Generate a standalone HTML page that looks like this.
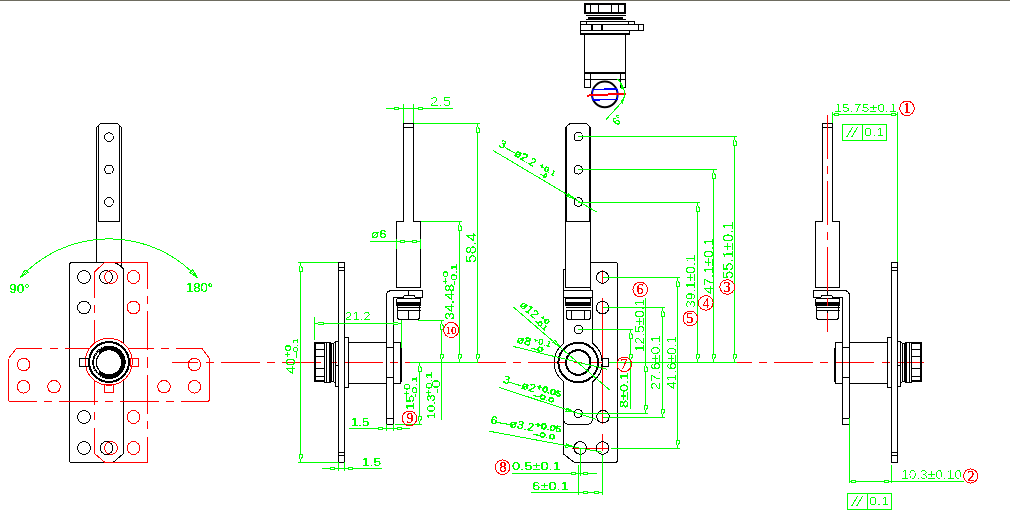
<!DOCTYPE html>
<html><head><meta charset="utf-8"><style>
html,body{margin:0;padding:0;background:#fff;}
body{width:1010px;height:515px;overflow:hidden;position:relative;}
svg{position:absolute;left:0;top:0;}
text{font-family:"Liberation Sans",sans-serif;filter:url(#al);} text.b{filter:url(#al2);} text.s{filter:url(#al3);}
</style></head><body>
<svg width="1010" height="515" viewBox="0 0 1010 515" shape-rendering="crispEdges">
<defs><filter id="al" x="-0.2" y="-0.2" width="1.4" height="1.4"><feComponentTransfer><feFuncA type="discrete" tableValues="0 1 1"/></feComponentTransfer></filter><filter id="al2" x="-0.2" y="-0.2" width="1.4" height="1.4"><feComponentTransfer><feFuncA type="discrete" tableValues="0 0 1"/></feComponentTransfer></filter><filter id="al3" x="-0.2" y="-0.2" width="1.4" height="1.4"><feComponentTransfer><feFuncA type="discrete" tableValues="0 1 1 1 1"/></feComponentTransfer></filter></defs>
<rect x="0" y="0" width="1010" height="1" fill="#6e6c60"/>
<line x1="172" y1="362.5" x2="924" y2="362.5" stroke="#ff0000" stroke-width="1" stroke-dasharray="38.8 7.3 8 7.37" stroke-dashoffset="12.5" shape-rendering="crispEdges"/>
<path d="M96.5 262 L96.5 127.5 L100.5 123.5 L117.5 123.5 L121.5 127.5 L121.5 268" stroke="#000" stroke-width="1" fill="none"/>
<path d="M98.5 221.5 L98.5 125.5 M119.5 221.5 L119.5 125.5 M98.5 221.5 L119.5 221.5" stroke="#000" stroke-width="1" fill="none"/>
<circle cx="109" cy="137.1" r="4.3" stroke="#000" stroke-width="1" fill="none"/>
<circle cx="109" cy="169.5" r="4.3" stroke="#000" stroke-width="1" fill="none"/>
<circle cx="109" cy="202" r="4.3" stroke="#000" stroke-width="1" fill="none"/>
<path d="M72 262.5 L112 262.5 Q118 262.5 123.5 269 L123.5 453.5 L113 462.5 L72 462.5 Q69.5 462.5 69.5 460 L69.5 265 Q69.5 262.5 72 262.5 Z" stroke="#000" stroke-width="1" fill="none"/>
<circle cx="84" cy="277" r="6.4" stroke="#000" stroke-width="1" fill="none"/>
<circle cx="106" cy="277" r="6.4" stroke="#000" stroke-width="1" fill="none"/>
<circle cx="84" cy="307.5" r="6.4" stroke="#000" stroke-width="1" fill="none"/>
<circle cx="84" cy="417" r="6.4" stroke="#000" stroke-width="1" fill="none"/>
<circle cx="84" cy="448" r="6.4" stroke="#000" stroke-width="1" fill="none"/>
<circle cx="106.5" cy="448" r="6.4" stroke="#000" stroke-width="1" fill="none"/>
<path d="M94.5 272 L104.5 262.5 L147.5 262.5" stroke="#ff0000" stroke-width="1" fill="none"/>
<path d="M94.5 453.5 L105 462.5 L147.5 462.5" stroke="#ff0000" stroke-width="1" fill="none"/>
<line x1="94.5" y1="272.0" x2="94.5" y2="298.0" stroke="#ff0000" stroke-width="1" shape-rendering="crispEdges"/>
<line x1="94.5" y1="305.2" x2="94.5" y2="313.2" stroke="#ff0000" stroke-width="1" shape-rendering="crispEdges"/>
<line x1="94.5" y1="320.4" x2="94.5" y2="359.2" stroke="#ff0000" stroke-width="1" shape-rendering="crispEdges"/>
<line x1="94.5" y1="366.3" x2="94.5" y2="405.1" stroke="#ff0000" stroke-width="1" shape-rendering="crispEdges"/>
<line x1="94.5" y1="412.3" x2="94.5" y2="420.3" stroke="#ff0000" stroke-width="1" shape-rendering="crispEdges"/>
<line x1="94.5" y1="427.5" x2="94.5" y2="453.5" stroke="#ff0000" stroke-width="1" shape-rendering="crispEdges"/>
<line x1="147.5" y1="262.5" x2="147.5" y2="288.5" stroke="#ff0000" stroke-width="1" shape-rendering="crispEdges"/>
<line x1="147.5" y1="295.7" x2="147.5" y2="303.7" stroke="#ff0000" stroke-width="1" shape-rendering="crispEdges"/>
<line x1="147.5" y1="310.9" x2="147.5" y2="349.7" stroke="#ff0000" stroke-width="1" shape-rendering="crispEdges"/>
<line x1="147.5" y1="356.9" x2="147.5" y2="368.1" stroke="#ff0000" stroke-width="1" shape-rendering="crispEdges"/>
<line x1="147.5" y1="375.3" x2="147.5" y2="414.1" stroke="#ff0000" stroke-width="1" shape-rendering="crispEdges"/>
<line x1="147.5" y1="421.3" x2="147.5" y2="429.3" stroke="#ff0000" stroke-width="1" shape-rendering="crispEdges"/>
<line x1="147.5" y1="436.5" x2="147.5" y2="462.5" stroke="#ff0000" stroke-width="1" shape-rendering="crispEdges"/>
<circle cx="111" cy="277" r="6.4" stroke="#ff0000" stroke-width="1" fill="none"/>
<circle cx="133.5" cy="277" r="6.4" stroke="#ff0000" stroke-width="1" fill="none"/>
<circle cx="133.5" cy="307.5" r="6.4" stroke="#ff0000" stroke-width="1" fill="none"/>
<circle cx="133.5" cy="417" r="6.4" stroke="#ff0000" stroke-width="1" fill="none"/>
<circle cx="133.5" cy="448" r="6.4" stroke="#ff0000" stroke-width="1" fill="none"/>
<circle cx="111" cy="448" r="6.4" stroke="#ff0000" stroke-width="1" fill="none"/>
<path d="M8.5 358.5 L16.3 348.5 M202 348.5 L209.5 358.5 L209.5 399 Q209.5 401.5 207 401.5 M10.8 401.5 Q8.5 401.5 8.5 399 L8.5 358.5" stroke="#ff0000" stroke-width="1" fill="none"/>
<line x1="16.3" y1="348.5" x2="42.3" y2="348.5" stroke="#ff0000" stroke-width="1" shape-rendering="crispEdges"/>
<line x1="49.5" y1="348.5" x2="57.5" y2="348.5" stroke="#ff0000" stroke-width="1" shape-rendering="crispEdges"/>
<line x1="64.7" y1="348.5" x2="103.5" y2="348.5" stroke="#ff0000" stroke-width="1" shape-rendering="crispEdges"/>
<line x1="114.8" y1="348.5" x2="153.6" y2="348.5" stroke="#ff0000" stroke-width="1" shape-rendering="crispEdges"/>
<line x1="160.8" y1="348.5" x2="168.8" y2="348.5" stroke="#ff0000" stroke-width="1" shape-rendering="crispEdges"/>
<line x1="176.0" y1="348.5" x2="202.0" y2="348.5" stroke="#ff0000" stroke-width="1" shape-rendering="crispEdges"/>
<line x1="10.8" y1="401.5" x2="36.8" y2="401.5" stroke="#ff0000" stroke-width="1" shape-rendering="crispEdges"/>
<line x1="44.0" y1="401.5" x2="52.0" y2="401.5" stroke="#ff0000" stroke-width="1" shape-rendering="crispEdges"/>
<line x1="59.2" y1="401.5" x2="98.0" y2="401.5" stroke="#ff0000" stroke-width="1" shape-rendering="crispEdges"/>
<line x1="105.2" y1="401.5" x2="112.6" y2="401.5" stroke="#ff0000" stroke-width="1" shape-rendering="crispEdges"/>
<line x1="119.8" y1="401.5" x2="158.6" y2="401.5" stroke="#ff0000" stroke-width="1" shape-rendering="crispEdges"/>
<line x1="165.8" y1="401.5" x2="173.8" y2="401.5" stroke="#ff0000" stroke-width="1" shape-rendering="crispEdges"/>
<line x1="181.0" y1="401.5" x2="207.0" y2="401.5" stroke="#ff0000" stroke-width="1" shape-rendering="crispEdges"/>
<circle cx="23.6" cy="364.5" r="6.3" stroke="#ff0000" stroke-width="1" fill="none"/>
<circle cx="23.6" cy="386.8" r="6.3" stroke="#ff0000" stroke-width="1" fill="none"/>
<circle cx="54" cy="386.8" r="6.3" stroke="#ff0000" stroke-width="1" fill="none"/>
<circle cx="194.4" cy="364.5" r="6.3" stroke="#ff0000" stroke-width="1" fill="none"/>
<circle cx="194.4" cy="386.8" r="6.3" stroke="#ff0000" stroke-width="1" fill="none"/>
<circle cx="164" cy="386.8" r="6.3" stroke="#ff0000" stroke-width="1" fill="none"/>
<circle cx="108.8" cy="361.8" r="23.5" fill="#fff"/>
<circle cx="108.8" cy="361.8" r="23.5" stroke="#ff0000" stroke-width="1" fill="none"/>
<circle cx="109" cy="362" r="19.9" stroke="#000" stroke-width="2" fill="none"/>
<circle cx="109" cy="362.3" r="14.35" stroke="#000" stroke-width="4.7" fill="none"/>
<path d="M99.1 352.6 A14 14 0 0 0 99.1 372.4" stroke="#fff" stroke-width="1.6" fill="none"/>
<path d="M103 347.5 A15.6 15.6 0 0 0 94.5 356" stroke="#fff" stroke-width="0.8" fill="none" stroke-dasharray="1 1.5"/>
<path d="M94.5 369 A15.6 15.6 0 0 0 103 377.2" stroke="#fff" stroke-width="0.8" fill="none" stroke-dasharray="1 1.5"/>
<rect x="79.5" y="358.5" width="9" height="8" stroke="#000" stroke-width="1" fill="none" shape-rendering="crispEdges"/>
<rect x="130.5" y="358.5" width="8" height="8" stroke="#ff0000" stroke-width="1" fill="none" shape-rendering="crispEdges"/>
<rect x="104.5" y="384.5" width="9" height="8" stroke="#ff0000" stroke-width="1" fill="none" shape-rendering="crispEdges"/>
<path d="M20.3 277.7 A120.5 120.5 0 0 1 197.5 277.6" stroke="#00ff00" stroke-width="1" fill="none"/>
<path d="M25.09 269.82 L20.3 277.7 L27.98 272.59 Z" stroke="#00ff00" stroke-width="1" fill="none"/>
<path d="M189.79 272.54 L197.5 277.6 L192.66 269.75 Z" stroke="#00ff00" stroke-width="1" fill="none"/>
<text x="9" y="293" font-size="12.50" fill="#00ff00" textLength="20.80" lengthAdjust="spacingAndGlyphs">90°</text>
<text x="186" y="292" font-size="12.08" fill="#00ff00" textLength="27.00" lengthAdjust="spacingAndGlyphs">180°</text>
<path d="M403.5 221.5 L403.5 123.5 L413.5 123.5 L413.5 221.5" stroke="#000" stroke-width="1" fill="none"/>
<line x1="403.5" y1="127.5" x2="413.5" y2="127.5" stroke="#000" stroke-width="1" shape-rendering="crispEdges"/>
<path d="M396.5 287.5 L396.5 221.5 L403.5 221.5 M413.5 221.5 L420.5 221.5 L420.5 287.5" stroke="#000" stroke-width="1" fill="none"/>
<line x1="396.5" y1="287.5" x2="420.5" y2="287.5" stroke="#000" stroke-width="1" shape-rendering="crispEdges"/>
<path d="M386.5 424.5 L386.5 296 Q386.5 290.5 392 290.5 L422.5 290.5 L422.5 297.5 L415.5 297.5 L414 295.5 L404.5 295.5 L403 297.5 L393.5 297.5 L393.5 424.5 L386.5 424.5" stroke="#000" stroke-width="1" fill="none"/>
<line x1="386.5" y1="418.5" x2="393.5" y2="418.5" stroke="#000" stroke-width="1" shape-rendering="crispEdges"/>
<line x1="408.5" y1="290.5" x2="408.5" y2="295.5" stroke="#000" stroke-width="1" shape-rendering="crispEdges"/>
<line x1="396.5" y1="298.5" x2="420.5" y2="298.5" stroke="#000" stroke-width="1" shape-rendering="crispEdges"/>
<line x1="396.5" y1="302.5" x2="420.5" y2="302.5" stroke="#000" stroke-width="1" shape-rendering="crispEdges"/>
<line x1="396.5" y1="305.5" x2="420.5" y2="305.5" stroke="#000" stroke-width="1" shape-rendering="crispEdges"/>
<line x1="396.5" y1="307.5" x2="420.5" y2="307.5" stroke="#000" stroke-width="1" shape-rendering="crispEdges"/>
<line x1="396.5" y1="310.5" x2="420.5" y2="310.5" stroke="#000" stroke-width="1" shape-rendering="crispEdges"/>
<line x1="396.5" y1="303.5" x2="420.5" y2="303.5" stroke="#000" stroke-width="2" shape-rendering="crispEdges"/>
<line x1="396.5" y1="298.5" x2="396.5" y2="305.5" stroke="#000" stroke-width="1" shape-rendering="crispEdges"/>
<line x1="420.5" y1="298.5" x2="420.5" y2="305.5" stroke="#000" stroke-width="1" shape-rendering="crispEdges"/>
<line x1="397.5" y1="305.5" x2="397.5" y2="310.5" stroke="#000" stroke-width="1" shape-rendering="crispEdges"/>
<line x1="419.5" y1="305.5" x2="419.5" y2="310.5" stroke="#000" stroke-width="1" shape-rendering="crispEdges"/>
<path d="M397.5 310.5 L397.5 318 L399 319.5 L418 319.5 L419.5 318 L419.5 310.5" stroke="#000" stroke-width="1" fill="none"/>
<line x1="408.5" y1="310.5" x2="408.5" y2="319.5" stroke="#000" stroke-width="1" shape-rendering="crispEdges"/>
<rect x="338.5" y="262.5" width="6" height="200" stroke="#000" stroke-width="1" fill="none" shape-rendering="crispEdges"/>
<line x1="338.5" y1="267.5" x2="344.5" y2="267.5" stroke="#000" stroke-width="1" shape-rendering="crispEdges"/>
<line x1="338.5" y1="270.5" x2="344.5" y2="270.5" stroke="#000" stroke-width="1" shape-rendering="crispEdges"/>
<line x1="338.5" y1="452.5" x2="344.5" y2="452.5" stroke="#000" stroke-width="1" shape-rendering="crispEdges"/>
<line x1="338.5" y1="455.5" x2="344.5" y2="455.5" stroke="#000" stroke-width="1" shape-rendering="crispEdges"/>
<rect x="314.5" y="342.5" width="10" height="39" stroke="#000" stroke-width="1" fill="none" shape-rendering="crispEdges"/>
<line x1="314.5" y1="343.5" x2="324.5" y2="343.5" stroke="#000" stroke-width="1" shape-rendering="crispEdges"/>
<line x1="314.5" y1="380.5" x2="324.5" y2="380.5" stroke="#000" stroke-width="1" shape-rendering="crispEdges"/>
<line x1="315.5" y1="342.5" x2="315.5" y2="381.5" stroke="#000" stroke-width="1" shape-rendering="crispEdges"/>
<line x1="314.5" y1="349.5" x2="324.5" y2="349.5" stroke="#000" stroke-width="1" shape-rendering="crispEdges"/>
<line x1="314.5" y1="356.5" x2="324.5" y2="356.5" stroke="#000" stroke-width="1" shape-rendering="crispEdges"/>
<line x1="314.5" y1="368.5" x2="324.5" y2="368.5" stroke="#000" stroke-width="1" shape-rendering="crispEdges"/>
<line x1="314.5" y1="376.5" x2="324.5" y2="376.5" stroke="#000" stroke-width="1" shape-rendering="crispEdges"/>
<rect x="324.5" y="342.5" width="2" height="40" stroke="#000" stroke-width="1" fill="none" shape-rendering="crispEdges"/>
<rect x="326.5" y="342.5" width="4" height="40" stroke="#000" stroke-width="1" fill="none" shape-rendering="crispEdges"/>
<line x1="329.5" y1="342.5" x2="329.5" y2="382.5" stroke="#000" stroke-width="1" shape-rendering="crispEdges"/>
<path d="M330.5 345 L331.5 344 L331.5 381 L330.5 380" stroke="#000" stroke-width="1" fill="none"/>
<rect x="331.5" y="343.5" width="2" height="38" stroke="#000" stroke-width="1" fill="none" shape-rendering="crispEdges"/>
<path d="M333.5 343.5 L335.5 341.5 L335.5 383.5 L333.5 381.5" stroke="#000" stroke-width="1" fill="none"/>
<rect x="335.5" y="341.5" width="3" height="45" stroke="#000" stroke-width="1" fill="none" shape-rendering="crispEdges"/>
<line x1="335.5" y1="365.5" x2="338.5" y2="365.5" stroke="#000" stroke-width="1" shape-rendering="crispEdges"/>
<rect x="344.5" y="337.5" width="4" height="50" stroke="#000" stroke-width="1" fill="none" shape-rendering="crispEdges"/>
<line x1="348.5" y1="342.5" x2="386.5" y2="342.5" stroke="#000" stroke-width="1" shape-rendering="crispEdges"/>
<line x1="348.5" y1="383.5" x2="386.5" y2="383.5" stroke="#000" stroke-width="1" shape-rendering="crispEdges"/>
<line x1="386.5" y1="347.5" x2="393.5" y2="347.5" stroke="#000" stroke-width="1" shape-rendering="crispEdges"/>
<line x1="386.5" y1="377.5" x2="393.5" y2="377.5" stroke="#000" stroke-width="1" shape-rendering="crispEdges"/>
<path d="M393.5 342.5 L400.5 342.5 L400.5 383.5 L393.5 383.5" stroke="#000" stroke-width="1" fill="none"/>
<line x1="401.5" y1="348" x2="401.5" y2="382" stroke="#000" stroke-width="1" shape-rendering="crispEdges"/>
<g transform="matrix(-1 0 0 1 1236 0)">
<path d="M403.5 221.5 L403.5 123.5 L413.5 123.5 L413.5 221.5" stroke="#000" stroke-width="1" fill="none"/>
<line x1="403.5" y1="127.5" x2="413.5" y2="127.5" stroke="#000" stroke-width="1" shape-rendering="crispEdges"/>
<path d="M396.5 287.5 L396.5 221.5 L403.5 221.5 M413.5 221.5 L420.5 221.5 L420.5 287.5" stroke="#000" stroke-width="1" fill="none"/>
<line x1="396.5" y1="287.5" x2="420.5" y2="287.5" stroke="#000" stroke-width="1" shape-rendering="crispEdges"/>
<path d="M386.5 424.5 L386.5 296 Q386.5 290.5 392 290.5 L422.5 290.5 L422.5 297.5 L415.5 297.5 L414 295.5 L404.5 295.5 L403 297.5 L393.5 297.5 L393.5 424.5 L386.5 424.5" stroke="#000" stroke-width="1" fill="none"/>
<line x1="386.5" y1="418.5" x2="393.5" y2="418.5" stroke="#000" stroke-width="1" shape-rendering="crispEdges"/>
<line x1="408.5" y1="290.5" x2="408.5" y2="295.5" stroke="#000" stroke-width="1" shape-rendering="crispEdges"/>
<line x1="396.5" y1="298.5" x2="420.5" y2="298.5" stroke="#000" stroke-width="1" shape-rendering="crispEdges"/>
<line x1="396.5" y1="302.5" x2="420.5" y2="302.5" stroke="#000" stroke-width="1" shape-rendering="crispEdges"/>
<line x1="396.5" y1="305.5" x2="420.5" y2="305.5" stroke="#000" stroke-width="1" shape-rendering="crispEdges"/>
<line x1="396.5" y1="307.5" x2="420.5" y2="307.5" stroke="#000" stroke-width="1" shape-rendering="crispEdges"/>
<line x1="396.5" y1="310.5" x2="420.5" y2="310.5" stroke="#000" stroke-width="1" shape-rendering="crispEdges"/>
<line x1="396.5" y1="303.5" x2="420.5" y2="303.5" stroke="#000" stroke-width="2" shape-rendering="crispEdges"/>
<line x1="396.5" y1="298.5" x2="396.5" y2="305.5" stroke="#000" stroke-width="1" shape-rendering="crispEdges"/>
<line x1="420.5" y1="298.5" x2="420.5" y2="305.5" stroke="#000" stroke-width="1" shape-rendering="crispEdges"/>
<line x1="397.5" y1="305.5" x2="397.5" y2="310.5" stroke="#000" stroke-width="1" shape-rendering="crispEdges"/>
<line x1="419.5" y1="305.5" x2="419.5" y2="310.5" stroke="#000" stroke-width="1" shape-rendering="crispEdges"/>
<path d="M397.5 310.5 L397.5 318 L399 319.5 L418 319.5 L419.5 318 L419.5 310.5" stroke="#000" stroke-width="1" fill="none"/>
<line x1="408.5" y1="310.5" x2="408.5" y2="319.5" stroke="#000" stroke-width="1" shape-rendering="crispEdges"/>
<rect x="338.5" y="262.5" width="6" height="200" stroke="#000" stroke-width="1" fill="none" shape-rendering="crispEdges"/>
<line x1="338.5" y1="267.5" x2="344.5" y2="267.5" stroke="#000" stroke-width="1" shape-rendering="crispEdges"/>
<line x1="338.5" y1="270.5" x2="344.5" y2="270.5" stroke="#000" stroke-width="1" shape-rendering="crispEdges"/>
<line x1="338.5" y1="452.5" x2="344.5" y2="452.5" stroke="#000" stroke-width="1" shape-rendering="crispEdges"/>
<line x1="338.5" y1="455.5" x2="344.5" y2="455.5" stroke="#000" stroke-width="1" shape-rendering="crispEdges"/>
<rect x="314.5" y="342.5" width="10" height="39" stroke="#000" stroke-width="1" fill="none" shape-rendering="crispEdges"/>
<line x1="314.5" y1="343.5" x2="324.5" y2="343.5" stroke="#000" stroke-width="1" shape-rendering="crispEdges"/>
<line x1="314.5" y1="380.5" x2="324.5" y2="380.5" stroke="#000" stroke-width="1" shape-rendering="crispEdges"/>
<line x1="315.5" y1="342.5" x2="315.5" y2="381.5" stroke="#000" stroke-width="1" shape-rendering="crispEdges"/>
<line x1="314.5" y1="349.5" x2="324.5" y2="349.5" stroke="#000" stroke-width="1" shape-rendering="crispEdges"/>
<line x1="314.5" y1="356.5" x2="324.5" y2="356.5" stroke="#000" stroke-width="1" shape-rendering="crispEdges"/>
<line x1="314.5" y1="368.5" x2="324.5" y2="368.5" stroke="#000" stroke-width="1" shape-rendering="crispEdges"/>
<line x1="314.5" y1="376.5" x2="324.5" y2="376.5" stroke="#000" stroke-width="1" shape-rendering="crispEdges"/>
<rect x="324.5" y="342.5" width="2" height="40" stroke="#000" stroke-width="1" fill="none" shape-rendering="crispEdges"/>
<rect x="326.5" y="342.5" width="4" height="40" stroke="#000" stroke-width="1" fill="none" shape-rendering="crispEdges"/>
<line x1="329.5" y1="342.5" x2="329.5" y2="382.5" stroke="#000" stroke-width="1" shape-rendering="crispEdges"/>
<path d="M330.5 345 L331.5 344 L331.5 381 L330.5 380" stroke="#000" stroke-width="1" fill="none"/>
<rect x="331.5" y="343.5" width="2" height="38" stroke="#000" stroke-width="1" fill="none" shape-rendering="crispEdges"/>
<path d="M333.5 343.5 L335.5 341.5 L335.5 383.5 L333.5 381.5" stroke="#000" stroke-width="1" fill="none"/>
<rect x="335.5" y="341.5" width="3" height="45" stroke="#000" stroke-width="1" fill="none" shape-rendering="crispEdges"/>
<line x1="335.5" y1="365.5" x2="338.5" y2="365.5" stroke="#000" stroke-width="1" shape-rendering="crispEdges"/>
<rect x="344.5" y="337.5" width="4" height="50" stroke="#000" stroke-width="1" fill="none" shape-rendering="crispEdges"/>
<line x1="348.5" y1="342.5" x2="386.5" y2="342.5" stroke="#000" stroke-width="1" shape-rendering="crispEdges"/>
<line x1="348.5" y1="383.5" x2="386.5" y2="383.5" stroke="#000" stroke-width="1" shape-rendering="crispEdges"/>
<line x1="386.5" y1="347.5" x2="393.5" y2="347.5" stroke="#000" stroke-width="1" shape-rendering="crispEdges"/>
<line x1="386.5" y1="377.5" x2="393.5" y2="377.5" stroke="#000" stroke-width="1" shape-rendering="crispEdges"/>
<path d="M393.5 342.5 L400.5 342.5 L400.5 383.5 L393.5 383.5" stroke="#000" stroke-width="1" fill="none"/>
<line x1="401.5" y1="348" x2="401.5" y2="382" stroke="#000" stroke-width="1" shape-rendering="crispEdges"/>
</g>
<line x1="827.5" y1="114.5" x2="827.5" y2="332" stroke="#ff0000" stroke-width="1" stroke-dasharray="44 7 8 7" stroke-dashoffset="0" shape-rendering="crispEdges"/>
<line x1="386" y1="108.5" x2="452.5" y2="108.5" stroke="#00ff00" stroke-width="1" shape-rendering="crispEdges"/>
<line x1="403.5" y1="104" x2="403.5" y2="123" stroke="#00ff00" stroke-width="1" shape-rendering="crispEdges"/>
<line x1="413.5" y1="104" x2="413.5" y2="123" stroke="#00ff00" stroke-width="1" shape-rendering="crispEdges"/>
<rect x="394.5" y="107.5" width="4" height="2" stroke="#00ff00" stroke-width="1" fill="#fff" shape-rendering="crispEdges"/>
<rect x="418.5" y="107.5" width="4" height="2" stroke="#00ff00" stroke-width="1" fill="#fff" shape-rendering="crispEdges"/>
<text class="b" x="430" y="106" font-size="12.08" fill="#00ff00" textLength="21.30" lengthAdjust="spacingAndGlyphs">2.5</text>
<line x1="413.5" y1="123.5" x2="480" y2="123.5" stroke="#00ff00" stroke-width="1" shape-rendering="crispEdges"/>
<line x1="477.5" y1="123.5" x2="477.5" y2="362.5" stroke="#00ff00" stroke-width="1" shape-rendering="crispEdges"/>
<path d="M477.5 126.0 L479.0 128.5 L479.0 132.0 L476.0 132.0 L476.0 128.5 Z" stroke="#00ff00" fill="#fff"/>
<path d="M477.5 360.0 L479.0 357.5 L479.0 354.0 L476.0 354.0 L476.0 357.5 Z" stroke="#00ff00" fill="#fff"/>
<text class="b" stroke="#00ff00" stroke-width="0.2" x="476" y="263" font-size="14.03" fill="#00ff00" textLength="30.30" lengthAdjust="spacingAndGlyphs" transform="rotate(-90 476 263)">58.4</text>
<line x1="369.5" y1="241.5" x2="420.5" y2="241.5" stroke="#00ff00" stroke-width="1" shape-rendering="crispEdges"/>
<line x1="396.5" y1="239" x2="396.5" y2="249" stroke="#00ff00" stroke-width="1" shape-rendering="crispEdges"/>
<line x1="420.5" y1="239" x2="420.5" y2="249" stroke="#00ff00" stroke-width="1" shape-rendering="crispEdges"/>
<rect x="400.5" y="240.5" width="4" height="2" stroke="#00ff00" stroke-width="1" fill="#fff" shape-rendering="crispEdges"/>
<rect x="412.5" y="240.5" width="4" height="2" stroke="#00ff00" stroke-width="1" fill="#fff" shape-rendering="crispEdges"/>
<text x="371" y="238" font-size="10.69" fill="#00ff00" textLength="15.60" lengthAdjust="spacingAndGlyphs">ø6</text>
<line x1="420.5" y1="221.5" x2="462" y2="221.5" stroke="#00ff00" stroke-width="1" shape-rendering="crispEdges"/>
<line x1="459.5" y1="221.5" x2="459.5" y2="362.5" stroke="#00ff00" stroke-width="1" shape-rendering="crispEdges"/>
<path d="M459.5 224.0 L461.0 226.5 L461.0 230.0 L458.0 230.0 L458.0 226.5 Z" stroke="#00ff00" fill="#fff"/>
<path d="M459.5 360.0 L461.0 357.5 L461.0 354.0 L458.0 354.0 L458.0 357.5 Z" stroke="#00ff00" fill="#fff"/>
<text x="454" y="320" font-size="11.94" fill="#00ff00" textLength="36.00" lengthAdjust="spacingAndGlyphs" transform="rotate(-90 454 320)">34.48</text>
<text x="448" y="285" font-size="7.64" fill="#00ff00" textLength="14.20" lengthAdjust="spacingAndGlyphs" transform="rotate(-90 448 285)">+0</text>
<text x="457" y="285" font-size="8.19" fill="#00ff00" textLength="21.40" lengthAdjust="spacingAndGlyphs" transform="rotate(-90 457 285)">-0.1</text>
<line x1="418" y1="320.5" x2="443.6" y2="320.5" stroke="#00ff00" stroke-width="1" shape-rendering="crispEdges"/>
<line x1="441.5" y1="320.5" x2="441.5" y2="419.5" stroke="#00ff00" stroke-width="1" shape-rendering="crispEdges"/>
<path d="M441.5 323.0 L443.0 325.5 L443.0 329.0 L440.0 329.0 L440.0 325.5 Z" stroke="#00ff00" fill="#fff"/>
<path d="M441.5 360.0 L443.0 357.5 L443.0 354.0 L440.0 354.0 L440.0 357.5 Z" stroke="#00ff00" fill="#fff"/>
<circle cx="451.1" cy="330" r="7.5" stroke="#ff0000" stroke-width="1" fill="none"/>
<text x="451" y="334" font-size="11" fill="#ff0000" text-anchor="middle" style="font-family:'Liberation Serif',serif">10</text>
<line x1="314.5" y1="323.5" x2="401.5" y2="323.5" stroke="#00ff00" stroke-width="1" shape-rendering="crispEdges"/>
<line x1="314.5" y1="317" x2="314.5" y2="340" stroke="#00ff00" stroke-width="1" shape-rendering="crispEdges"/>
<line x1="401.5" y1="320" x2="401.5" y2="348" stroke="#00ff00" stroke-width="1" shape-rendering="crispEdges"/>
<path d="M317.0 323.5 L319.5 322.5 L323.0 322.5 L323.0 324.5 L319.5 324.5 Z" stroke="#00ff00" fill="#fff"/>
<path d="M399.0 323.5 L396.5 322.5 L393.0 322.5 L393.0 324.5 L396.5 324.5 Z" stroke="#00ff00" fill="#fff"/>
<text class="b" x="345" y="320" font-size="10.83" fill="#00ff00" textLength="25.60" lengthAdjust="spacingAndGlyphs">21.2</text>
<line x1="300.5" y1="262.5" x2="300.5" y2="462.5" stroke="#00ff00" stroke-width="1" shape-rendering="crispEdges"/>
<line x1="298" y1="262.5" x2="338" y2="262.5" stroke="#00ff00" stroke-width="1" shape-rendering="crispEdges"/>
<line x1="298" y1="462.5" x2="338" y2="462.5" stroke="#00ff00" stroke-width="1" shape-rendering="crispEdges"/>
<path d="M300.5 265.0 L302.0 267.5 L302.0 271.0 L299.0 271.0 L299.0 267.5 Z" stroke="#00ff00" fill="#fff"/>
<path d="M300.5 460.0 L302.0 457.5 L302.0 454.0 L299.0 454.0 L299.0 457.5 Z" stroke="#00ff00" fill="#fff"/>
<text class="b" stroke="#00ff00" stroke-width="0.2" x="295" y="374" font-size="12.08" fill="#00ff00" textLength="15.90" lengthAdjust="spacingAndGlyphs" transform="rotate(-90 295 374)">40</text>
<text x="291" y="358" font-size="8.75" fill="#00ff00" textLength="13.00" lengthAdjust="spacingAndGlyphs" transform="rotate(-90 291 358)">+0</text>
<text x="298" y="358" font-size="7.36" fill="#00ff00" textLength="19.80" lengthAdjust="spacingAndGlyphs" transform="rotate(-90 298 358)">–0.1</text>
<line x1="419.5" y1="362.5" x2="419.5" y2="424.5" stroke="#00ff00" stroke-width="1" shape-rendering="crispEdges"/>
<line x1="395" y1="424.5" x2="421.8" y2="424.5" stroke="#00ff00" stroke-width="1" shape-rendering="crispEdges"/>
<path d="M419.5 365.0 L421.0 367.5 L421.0 371.0 L418.0 371.0 L418.0 367.5 Z" stroke="#00ff00" fill="#fff"/>
<path d="M419.5 422.0 L421.0 419.5 L421.0 416.0 L418.0 416.0 L418.0 419.5 Z" stroke="#00ff00" fill="#fff"/>
<text x="414" y="410" font-size="10.28" fill="#00ff00" textLength="15.00" lengthAdjust="spacingAndGlyphs" transform="rotate(-90 414 410)">15</text>
<text x="410" y="397" font-size="8.19" fill="#00ff00" textLength="13.80" lengthAdjust="spacingAndGlyphs" transform="rotate(-90 410 397)">+0</text>
<text x="417" y="398" font-size="7.36" fill="#00ff00" textLength="22.20" lengthAdjust="spacingAndGlyphs" transform="rotate(-90 417 398)">-0.1</text>
<text x="435" y="419" font-size="10.14" fill="#00ff00" textLength="24.50" lengthAdjust="spacingAndGlyphs" transform="rotate(-90 435 419)">10.3</text>
<text x="432" y="396" font-size="9.58" fill="#00ff00" textLength="24.00" lengthAdjust="spacingAndGlyphs" transform="rotate(-90 432 396)">+0.1</text>
<text x="440" y="394" font-size="10.42" fill="#00ff00" textLength="14.50" lengthAdjust="spacingAndGlyphs" transform="rotate(-90 440 394)">-0</text>
<circle cx="409.5" cy="418.3" r="7.3" stroke="#ff0000" stroke-width="1" fill="none"/>
<text x="410" y="423" font-size="14" fill="#ff0000" text-anchor="middle" style="font-family:'Liberation Serif',serif">9</text>
<line x1="349" y1="428.5" x2="409.8" y2="428.5" stroke="#00ff00" stroke-width="1" shape-rendering="crispEdges"/>
<line x1="386.5" y1="424" x2="386.5" y2="431" stroke="#00ff00" stroke-width="1" shape-rendering="crispEdges"/>
<line x1="393.5" y1="424" x2="393.5" y2="431" stroke="#00ff00" stroke-width="1" shape-rendering="crispEdges"/>
<rect x="378.5" y="427.5" width="4" height="2" stroke="#00ff00" stroke-width="1" fill="#fff" shape-rendering="crispEdges"/>
<rect x="397.5" y="427.5" width="4" height="2" stroke="#00ff00" stroke-width="1" fill="#fff" shape-rendering="crispEdges"/>
<text x="351" y="426" font-size="11.39" fill="#00ff00" textLength="18.40" lengthAdjust="spacingAndGlyphs">1.5</text>
<line x1="322.3" y1="468.5" x2="381.6" y2="468.5" stroke="#00ff00" stroke-width="1" shape-rendering="crispEdges"/>
<line x1="338.5" y1="462" x2="338.5" y2="471" stroke="#00ff00" stroke-width="1" shape-rendering="crispEdges"/>
<line x1="344.5" y1="462" x2="344.5" y2="471" stroke="#00ff00" stroke-width="1" shape-rendering="crispEdges"/>
<rect x="330.5" y="467.5" width="4" height="2" stroke="#00ff00" stroke-width="1" fill="#fff" shape-rendering="crispEdges"/>
<rect x="348.5" y="467.5" width="4" height="2" stroke="#00ff00" stroke-width="1" fill="#fff" shape-rendering="crispEdges"/>
<text x="362" y="466" font-size="11.39" fill="#00ff00" textLength="19.00" lengthAdjust="spacingAndGlyphs">1.5</text>
<line x1="409.8" y1="362.5" x2="478" y2="362.5" stroke="#00ff00" stroke-width="1" shape-rendering="crispEdges"/>
<line x1="602.5" y1="269.5" x2="602.5" y2="283.4" stroke="#ff0000" stroke-width="1" shape-rendering="crispEdges"/>
<line x1="602.5" y1="297.5" x2="602.5" y2="424.3" stroke="#ff0000" stroke-width="1" shape-rendering="crispEdges"/>
<line x1="602.5" y1="433.6" x2="602.5" y2="451" stroke="#ff0000" stroke-width="1" shape-rendering="crispEdges"/>
<line x1="602.5" y1="454.6" x2="602.5" y2="460" stroke="#ff0000" stroke-width="1" shape-rendering="crispEdges"/>
<line x1="572" y1="448.5" x2="608" y2="448.5" stroke="#ff0000" stroke-width="1" shape-rendering="crispEdges"/>
<path d="M565.5 287.5 L565.5 127.5 L570 123.5 L586.5 123.5 L590.5 127.5 L590.5 290.5" stroke="#000" stroke-width="1" fill="none"/>
<path d="M566.5 221.5 L566.5 127 M589.5 221.5 L589.5 127 M566.5 221.5 L589.5 221.5" stroke="#000" stroke-width="1" fill="none"/>
<line x1="565.5" y1="287.5" x2="590.5" y2="287.5" stroke="#000" stroke-width="1" shape-rendering="crispEdges"/>
<circle cx="578.3" cy="136.7" r="4.3" stroke="#000" stroke-width="1" fill="none"/>
<circle cx="578.3" cy="169.8" r="4.3" stroke="#000" stroke-width="1" fill="none"/>
<circle cx="578.3" cy="202" r="4.3" stroke="#000" stroke-width="1" fill="none"/>
<line x1="563.5" y1="290.5" x2="592.5" y2="290.5" stroke="#000" stroke-width="1" shape-rendering="crispEdges"/>
<line x1="563.5" y1="297.5" x2="592.5" y2="297.5" stroke="#000" stroke-width="1" shape-rendering="crispEdges"/>
<path d="M565.5 268.5 L563.5 270 L563.5 454 L574.5 462.5 L615 462.5 Q617.5 462.5 617.5 460 L617.5 265 Q617.5 262.5 615 262.5 L590.5 262.5" stroke="#000" stroke-width="1" fill="none"/>
<path d="M592.5 290.5 L592.5 418 Q592.5 424.5 586.5 424.5 L569.5 424.5 Q563.5 424.5 563.5 418" stroke="#000" stroke-width="1" fill="none"/>
<line x1="565.5" y1="298.5" x2="590.5" y2="298.5" stroke="#000" stroke-width="1" shape-rendering="crispEdges"/>
<line x1="565.5" y1="302.5" x2="590.5" y2="302.5" stroke="#000" stroke-width="1" shape-rendering="crispEdges"/>
<line x1="565.5" y1="305.5" x2="590.5" y2="305.5" stroke="#000" stroke-width="1" shape-rendering="crispEdges"/>
<line x1="565.5" y1="307.5" x2="590.5" y2="307.5" stroke="#000" stroke-width="1" shape-rendering="crispEdges"/>
<line x1="565.5" y1="310.5" x2="590.5" y2="310.5" stroke="#000" stroke-width="1" shape-rendering="crispEdges"/>
<line x1="565.5" y1="303.5" x2="590.5" y2="303.5" stroke="#000" stroke-width="2" shape-rendering="crispEdges"/>
<line x1="565.5" y1="297.5" x2="565.5" y2="305.5" stroke="#000" stroke-width="1" shape-rendering="crispEdges"/>
<line x1="590.5" y1="297.5" x2="590.5" y2="305.5" stroke="#000" stroke-width="1" shape-rendering="crispEdges"/>
<path d="M566.5 310.5 L566.5 318 L568 319.5 L589 319.5 L590.5 318 L590.5 310.5" stroke="#000" stroke-width="1" fill="none"/>
<line x1="571.5" y1="310.5" x2="571.5" y2="319.5" stroke="#000" stroke-width="1" shape-rendering="crispEdges"/>
<line x1="584.5" y1="310.5" x2="584.5" y2="319.5" stroke="#000" stroke-width="1" shape-rendering="crispEdges"/>
<circle cx="602.5" cy="277.3" r="6" stroke="#000" stroke-width="1" fill="none"/>
<circle cx="602.5" cy="307.6" r="6.3" stroke="#000" stroke-width="1" fill="none"/>
<circle cx="578.4" cy="329.5" r="4.3" stroke="#000" stroke-width="1" fill="none"/>
<circle cx="578.3" cy="413.4" r="4" stroke="#000" stroke-width="1" fill="none"/>
<circle cx="603" cy="416.8" r="6.3" stroke="#000" stroke-width="1" fill="none"/>
<circle cx="580.1" cy="448" r="6.3" stroke="#000" stroke-width="1" fill="none"/>
<circle cx="602.6" cy="448" r="6.3" stroke="#000" stroke-width="1" fill="none"/>
<circle cx="578.2" cy="362.5" r="23.5" fill="#fff"/>
<path d="M563.5 343.53 A24 24 0 0 0 563.5 381.47" stroke="#000" stroke-width="1" fill="none"/>
<path d="M592.5 343.23 A24 24 0 0 1 592.5 381.77" stroke="#000" stroke-width="1" fill="none"/>
<circle cx="578.2" cy="362.5" r="19.8" stroke="#000" stroke-width="2" fill="none"/>
<circle cx="578.2" cy="362.5" r="12.3" stroke="#000" stroke-width="2" fill="none"/>
<rect x="602.5" y="358.5" width="6" height="8" stroke="#000" stroke-width="1" fill="#fff" shape-rendering="crispEdges"/>
<line x1="550" y1="362.5" x2="606" y2="362.5" stroke="#ff0000" stroke-width="1" stroke-dasharray="38.8 7.3 8 7.37" stroke-dashoffset="21.68" shape-rendering="crispEdges"/>
<circle cx="578.2" cy="362.5" r="19.8" stroke="#000" stroke-width="2" fill="none"/>
<circle cx="578.2" cy="362.5" r="12.3" stroke="#000" stroke-width="2" fill="none"/>
<rect x="602.5" y="358.5" width="6" height="8" stroke="#000" stroke-width="1" fill="#fff" shape-rendering="crispEdges"/>
<line x1="578.3" y1="136.5" x2="736.5" y2="136.5" stroke="#00ff00" stroke-width="1" shape-rendering="crispEdges"/>
<line x1="734.5" y1="136.5" x2="734.5" y2="362.5" stroke="#00ff00" stroke-width="1" shape-rendering="crispEdges"/>
<path d="M734.5 139.0 L736.0 141.5 L736.0 145.0 L733.0 145.0 L733.0 141.5 Z" stroke="#00ff00" fill="#fff"/>
<path d="M734.5 360.0 L736.0 357.5 L736.0 354.0 L733.0 354.0 L733.0 357.5 Z" stroke="#00ff00" fill="#fff"/>
<line x1="578.3" y1="169.5" x2="717" y2="169.5" stroke="#00ff00" stroke-width="1" shape-rendering="crispEdges"/>
<line x1="713.5" y1="169.5" x2="713.5" y2="362.5" stroke="#00ff00" stroke-width="1" shape-rendering="crispEdges"/>
<path d="M713.5 172.0 L715.0 174.5 L715.0 178.0 L712.0 178.0 L712.0 174.5 Z" stroke="#00ff00" fill="#fff"/>
<path d="M713.5 360.0 L715.0 357.5 L715.0 354.0 L712.0 354.0 L712.0 357.5 Z" stroke="#00ff00" fill="#fff"/>
<line x1="578.3" y1="202.5" x2="699.5" y2="202.5" stroke="#00ff00" stroke-width="1" shape-rendering="crispEdges"/>
<line x1="697.5" y1="202.5" x2="697.5" y2="362.5" stroke="#00ff00" stroke-width="1" shape-rendering="crispEdges"/>
<path d="M697.5 205.0 L699.0 207.5 L699.0 211.0 L696.0 211.0 L696.0 207.5 Z" stroke="#00ff00" fill="#fff"/>
<path d="M697.5 360.0 L699.0 357.5 L699.0 354.0 L696.0 354.0 L696.0 357.5 Z" stroke="#00ff00" fill="#fff"/>
<line x1="602.5" y1="277.5" x2="680" y2="277.5" stroke="#00ff00" stroke-width="1" shape-rendering="crispEdges"/>
<line x1="677.5" y1="277.5" x2="677.5" y2="448.5" stroke="#00ff00" stroke-width="1" shape-rendering="crispEdges"/>
<path d="M677.5 280.0 L679.0 282.5 L679.0 286.0 L676.0 286.0 L676.0 282.5 Z" stroke="#00ff00" fill="#fff"/>
<path d="M677.5 446.0 L679.0 443.5 L679.0 440.0 L676.0 440.0 L676.0 443.5 Z" stroke="#00ff00" fill="#fff"/>
<line x1="602.6" y1="307.5" x2="664.5" y2="307.5" stroke="#00ff00" stroke-width="1" shape-rendering="crispEdges"/>
<line x1="662.5" y1="307.5" x2="662.5" y2="417.5" stroke="#00ff00" stroke-width="1" shape-rendering="crispEdges"/>
<path d="M662.5 310.0 L664.0 312.5 L664.0 316.0 L661.0 316.0 L661.0 312.5 Z" stroke="#00ff00" fill="#fff"/>
<path d="M662.5 415.0 L664.0 412.5 L664.0 409.0 L661.0 409.0 L661.0 412.5 Z" stroke="#00ff00" fill="#fff"/>
<line x1="578.4" y1="329.5" x2="632.5" y2="329.5" stroke="#00ff00" stroke-width="1" shape-rendering="crispEdges"/>
<line x1="630.5" y1="329.5" x2="630.5" y2="409" stroke="#00ff00" stroke-width="1" shape-rendering="crispEdges"/>
<path d="M630.5 332.0 L632.0 334.5 L632.0 338.0 L629.0 338.0 L629.0 334.5 Z" stroke="#00ff00" fill="#fff"/>
<path d="M630.5 360.0 L632.0 357.5 L632.0 354.0 L629.0 354.0 L629.0 357.5 Z" stroke="#00ff00" fill="#fff"/>
<line x1="645.5" y1="298" x2="645.5" y2="413.5" stroke="#00ff00" stroke-width="1" shape-rendering="crispEdges"/>
<line x1="578.3" y1="413.5" x2="647.5" y2="413.5" stroke="#00ff00" stroke-width="1" shape-rendering="crispEdges"/>
<path d="M645.5 365.0 L647.0 367.5 L647.0 371.0 L644.0 371.0 L644.0 367.5 Z" stroke="#00ff00" fill="#fff"/>
<path d="M645.5 411.0 L647.0 408.5 L647.0 405.0 L644.0 405.0 L644.0 408.5 Z" stroke="#00ff00" fill="#fff"/>
<line x1="603" y1="417.5" x2="664.5" y2="417.5" stroke="#00ff00" stroke-width="1" shape-rendering="crispEdges"/>
<line x1="611" y1="448.5" x2="680" y2="448.5" stroke="#00ff00" stroke-width="1" shape-rendering="crispEdges"/>
<line x1="608.5" y1="362.5" x2="737" y2="362.5" stroke="#00ff00" stroke-width="1" shape-rendering="crispEdges"/>
<text class="b" stroke="#00ff00" stroke-width="0.2" x="733" y="279" font-size="14.17" fill="#00ff00" textLength="57.60" lengthAdjust="spacingAndGlyphs" transform="rotate(-90 733 279)">55.1±0.1</text>
<text class="b" stroke="#00ff00" stroke-width="0.2" x="713" y="294" font-size="13.33" fill="#00ff00" textLength="56.00" lengthAdjust="spacingAndGlyphs" transform="rotate(-90 713 294)">47.1±0.1</text>
<text class="b" stroke="#00ff00" stroke-width="0.2" x="695" y="308" font-size="12.50" fill="#00ff00" textLength="53.40" lengthAdjust="spacingAndGlyphs" transform="rotate(-90 695 308)">39.1±0.1</text>
<text class="b" stroke="#00ff00" stroke-width="0.2" x="676" y="389" font-size="13.61" fill="#00ff00" textLength="53.00" lengthAdjust="spacingAndGlyphs" transform="rotate(-90 676 389)">41.6±0.1</text>
<text class="b" stroke="#00ff00" stroke-width="0.2" x="660" y="390" font-size="13.61" fill="#00ff00" textLength="55.20" lengthAdjust="spacingAndGlyphs" transform="rotate(-90 660 390)">27.6±0.1</text>
<text class="b" stroke="#00ff00" stroke-width="0.2" x="644" y="352" font-size="12.78" fill="#00ff00" textLength="53.20" lengthAdjust="spacingAndGlyphs" transform="rotate(-90 644 352)">12.5±0.1</text>
<text x="628" y="408" font-size="11.11" fill="#00ff00" textLength="36.10" lengthAdjust="spacingAndGlyphs" transform="rotate(-90 628 408)">8±0.1</text>
<circle cx="727.2" cy="287" r="7.3" stroke="#ff0000" stroke-width="1" fill="none"/>
<text x="727" y="292" font-size="14" fill="#ff0000" text-anchor="middle" style="font-family:'Liberation Serif',serif">3</text>
<circle cx="705.8" cy="302.9" r="7.3" stroke="#ff0000" stroke-width="1" fill="none"/>
<text x="706" y="308" font-size="14" fill="#ff0000" text-anchor="middle" style="font-family:'Liberation Serif',serif">4</text>
<circle cx="690.3" cy="318.4" r="7.3" stroke="#ff0000" stroke-width="1" fill="none"/>
<text x="690" y="323" font-size="14" fill="#ff0000" text-anchor="middle" style="font-family:'Liberation Serif',serif">5</text>
<circle cx="640.2" cy="289.5" r="7.3" stroke="#ff0000" stroke-width="1" fill="none"/>
<text x="640" y="294" font-size="14" fill="#ff0000" text-anchor="middle" style="font-family:'Liberation Serif',serif">6</text>
<circle cx="624.3" cy="364.3" r="7.3" stroke="#ff0000" stroke-width="1" fill="none"/>
<text x="624" y="369" font-size="14" fill="#ff0000" text-anchor="middle" style="font-family:'Liberation Serif',serif">7</text>
<line x1="492.9" y1="150.4" x2="596.6" y2="212" stroke="#00ff00" stroke-width="1"/>
<text x="-1" y="0" font-size="10.14" fill="#00ff00" textLength="41.63" lengthAdjust="spacingAndGlyphs" transform="translate(498.60 146.48) rotate(30.7)">3—ø2.2</text>
<path d="M566.90 196.29 L574.60 199.00 L568.54 193.54 Z" stroke="#00ff00" stroke-width="1" fill="none"/>
<path d="M552.76 342.46 L559.90 346.40 L554.82 340.01 Z" stroke="#00ff00" stroke-width="1" fill="none"/>
<path d="M566.09 411.21 L574.20 412.10 L567.06 408.16 Z" stroke="#00ff00" stroke-width="1" fill="none"/>
<path d="M565.64 447.06 L573.80 446.90 L566.21 443.91 Z" stroke="#00ff00" stroke-width="1" fill="none"/>
<text class="s" x="-1" y="0" font-size="6.94" fill="#00ff00" textLength="18.22" lengthAdjust="spacingAndGlyphs" transform="translate(539.30 167.80) rotate(30.7)">+0.1</text>
<text class="s" x="-1" y="0" font-size="6.94" fill="#00ff00" textLength="6.94" lengthAdjust="spacingAndGlyphs" transform="translate(540.30 175.70) rotate(30.7)">–0</text>
<line x1="512.9" y1="306.7" x2="609.5" y2="389.8" stroke="#00ff00" stroke-width="1"/>
<text x="-1" y="0" font-size="10.42" fill="#00ff00" textLength="20.80" lengthAdjust="spacingAndGlyphs" transform="translate(519.60 306.53) rotate(40.2)">ø12</text>
<text class="s" x="-1" y="0" font-size="7.64" fill="#00ff00" textLength="10.31" lengthAdjust="spacingAndGlyphs" transform="translate(540.00 319.00) rotate(40.2)">+0</text>
<text class="s" x="-1" y="0" font-size="7.64" fill="#00ff00" textLength="14.11" lengthAdjust="spacingAndGlyphs" transform="translate(534.70 322.50) rotate(40.2)">–0.1</text>
<line x1="513" y1="346.4" x2="606.8" y2="369.2" stroke="#00ff00" stroke-width="1"/>
<text x="-1" y="0" font-size="10.42" fill="#00ff00" textLength="14.61" lengthAdjust="spacingAndGlyphs" transform="translate(516.90 343.00) rotate(13.4)">ø8</text>
<text x="-1" y="0" font-size="9.72" fill="#00ff00" textLength="18.63" lengthAdjust="spacingAndGlyphs" transform="translate(533.30 343.11) rotate(13.4)">+0.1</text>
<text class="s" x="-1" y="0" font-size="6.94" fill="#00ff00" textLength="12.94" lengthAdjust="spacingAndGlyphs" transform="translate(531.20 349.76) rotate(13.4)">–0</text>
<line x1="499" y1="387.3" x2="596" y2="419.3" stroke="#00ff00" stroke-width="1"/>
<text x="-1" y="0" font-size="11.11" fill="#00ff00" textLength="33.66" lengthAdjust="spacingAndGlyphs" transform="translate(503.20 382.83) rotate(17.6)">3—ø2</text>
<text class="s" x="-1" y="0" font-size="8.33" fill="#00ff00" textLength="25.59" lengthAdjust="spacingAndGlyphs" transform="translate(536.80 389.92) rotate(17.6)">+0.05</text>
<text class="s" x="-1" y="0" font-size="6.94" fill="#00ff00" textLength="21.50" lengthAdjust="spacingAndGlyphs" transform="translate(534.00 396.97) rotate(17.6)">–0.0</text>
<line x1="489.2" y1="431.2" x2="602" y2="452.2" stroke="#00ff00" stroke-width="1"/>
<text x="-1" y="0" font-size="11.11" fill="#00ff00" textLength="44.05" lengthAdjust="spacingAndGlyphs" transform="translate(491.10 423.77) rotate(10.2)">6—ø3.2</text>
<text class="s" x="-1" y="0" font-size="8.33" fill="#00ff00" textLength="27.13" lengthAdjust="spacingAndGlyphs" transform="translate(535.10 427.81) rotate(10.2)">+0.05</text>
<text class="s" x="-1" y="0" font-size="6.94" fill="#00ff00" textLength="22.44" lengthAdjust="spacingAndGlyphs" transform="translate(533.50 435.92) rotate(10.2)">–0.0</text>
<line x1="578.5" y1="465" x2="578.5" y2="494.5" stroke="#00ff00" stroke-width="1" shape-rendering="crispEdges"/>
<line x1="580.5" y1="448" x2="580.5" y2="476" stroke="#00ff00" stroke-width="1" shape-rendering="crispEdges"/>
<line x1="602.5" y1="455" x2="602.5" y2="494.5" stroke="#00ff00" stroke-width="1" shape-rendering="crispEdges"/>
<line x1="511.5" y1="473.5" x2="596.6" y2="473.5" stroke="#00ff00" stroke-width="1" shape-rendering="crispEdges"/>
<rect x="571.5" y="472.5" width="4" height="2" stroke="#00ff00" stroke-width="1" fill="#fff" shape-rendering="crispEdges"/>
<rect x="583.5" y="472.5" width="4" height="2" stroke="#00ff00" stroke-width="1" fill="#fff" shape-rendering="crispEdges"/>
<text x="512" y="470" font-size="11.67" fill="#00ff00" textLength="48.80" lengthAdjust="spacingAndGlyphs">0.5±0.1</text>
<circle cx="502.6" cy="467.2" r="7.3" stroke="#ff0000" stroke-width="1" fill="none"/>
<text x="503" y="472" font-size="14" fill="#ff0000" text-anchor="middle" style="font-family:'Liberation Serif',serif">8</text>
<line x1="530.8" y1="492.5" x2="602.9" y2="492.5" stroke="#00ff00" stroke-width="1" shape-rendering="crispEdges"/>
<rect x="583.5" y="491.5" width="4" height="2" stroke="#00ff00" stroke-width="1" fill="#fff" shape-rendering="crispEdges"/>
<rect x="594.5" y="491.5" width="4" height="2" stroke="#00ff00" stroke-width="1" fill="#fff" shape-rendering="crispEdges"/>
<text x="532" y="490" font-size="10.83" fill="#00ff00" textLength="37.00" lengthAdjust="spacingAndGlyphs">6±0.1</text>
<rect x="584.5" y="3.5" width="41" height="10" stroke="#000" stroke-width="1" fill="none" shape-rendering="crispEdges"/>
<line x1="584.5" y1="4.5" x2="625.5" y2="4.5" stroke="#000" stroke-width="1" shape-rendering="crispEdges"/>
<line x1="584.5" y1="12.5" x2="625.5" y2="12.5" stroke="#000" stroke-width="1" shape-rendering="crispEdges"/>
<line x1="585.5" y1="3.5" x2="585.5" y2="13.5" stroke="#000" stroke-width="1" shape-rendering="crispEdges"/>
<line x1="624.5" y1="3.5" x2="624.5" y2="13.5" stroke="#000" stroke-width="1" shape-rendering="crispEdges"/>
<line x1="590.5" y1="3.5" x2="590.5" y2="13.5" stroke="#000" stroke-width="1" shape-rendering="crispEdges"/>
<line x1="598.5" y1="3.5" x2="598.5" y2="13.5" stroke="#000" stroke-width="1" shape-rendering="crispEdges"/>
<line x1="611.5" y1="3.5" x2="611.5" y2="13.5" stroke="#000" stroke-width="1" shape-rendering="crispEdges"/>
<line x1="618.5" y1="3.5" x2="618.5" y2="13.5" stroke="#000" stroke-width="1" shape-rendering="crispEdges"/>
<line x1="585.5" y1="15.5" x2="625.5" y2="15.5" stroke="#000" stroke-width="1" shape-rendering="crispEdges"/>
<line x1="587.5" y1="17.5" x2="622.5" y2="17.5" stroke="#000" stroke-width="2" shape-rendering="crispEdges"/>
<line x1="585.5" y1="19.5" x2="625.5" y2="19.5" stroke="#000" stroke-width="1" shape-rendering="crispEdges"/>
<rect x="580.5" y="21.5" width="54" height="3" stroke="#000" stroke-width="1" fill="none" shape-rendering="crispEdges"/>
<rect x="580.5" y="24.5" width="63" height="5.5" stroke="#000" stroke-width="1" fill="none" shape-rendering="crispEdges"/>
<rect x="580.5" y="30" width="49" height="4.5" stroke="#000" stroke-width="1" fill="none" shape-rendering="crispEdges"/>
<line x1="580.5" y1="34" x2="629.5" y2="34" stroke="#000" stroke-width="2" shape-rendering="crispEdges"/>
<line x1="586.5" y1="21.5" x2="586.5" y2="24.5" stroke="#000" stroke-width="1" shape-rendering="crispEdges"/>
<line x1="628.5" y1="21.5" x2="628.5" y2="24.5" stroke="#000" stroke-width="1" shape-rendering="crispEdges"/>
<line x1="591.5" y1="24.5" x2="591.5" y2="30" stroke="#000" stroke-width="1" shape-rendering="crispEdges"/>
<line x1="592.5" y1="24.5" x2="592.5" y2="30" stroke="#000" stroke-width="1" shape-rendering="crispEdges"/>
<line x1="601.5" y1="24.5" x2="601.5" y2="30" stroke="#000" stroke-width="1" shape-rendering="crispEdges"/>
<line x1="602.5" y1="24.5" x2="602.5" y2="30" stroke="#000" stroke-width="1" shape-rendering="crispEdges"/>
<line x1="638.5" y1="24.5" x2="638.5" y2="30" stroke="#000" stroke-width="1" shape-rendering="crispEdges"/>
<rect x="584.5" y="34.5" width="41" height="38.5" stroke="#000" stroke-width="1" fill="none" shape-rendering="crispEdges"/>
<line x1="584.5" y1="72.5" x2="625.5" y2="72.5" stroke="#000" stroke-width="2" shape-rendering="crispEdges"/>
<rect x="584.5" y="72.5" width="41" height="7" stroke="#000" stroke-width="1" fill="none" shape-rendering="crispEdges"/>
<line x1="590.5" y1="72.5" x2="590.5" y2="79.5" stroke="#000" stroke-width="1" shape-rendering="crispEdges"/>
<line x1="620.5" y1="72.5" x2="620.5" y2="79.5" stroke="#000" stroke-width="1" shape-rendering="crispEdges"/>
<rect x="584.5" y="79.5" width="6" height="7.5" stroke="#000" stroke-width="1" fill="none" shape-rendering="crispEdges"/>
<rect x="620.5" y="79.5" width="5" height="7.5" stroke="#000" stroke-width="1" fill="none" shape-rendering="crispEdges"/>
<circle cx="604.6" cy="94.4" r="13" fill="#fff"/>
<circle cx="604.8" cy="94.4" r="12.8" stroke="#000" stroke-width="2" fill="none" shape-rendering="auto"/>
<path d="M592.5 89 L617 89 L617 99.5 L592.5 99.5 Z M604 88 L616.5 88 M593 100.5 L600 100.5" stroke="#0000ff" stroke-width="1" fill="none"/>
<path d="M586.8 95.6 L625.6 93.6" stroke="#ff0000" stroke-width="2" fill="none"/>
<line x1="611" y1="94.8" x2="625.6" y2="93.6" stroke="#ff0000" stroke-width="1"/>
<path d="M617.5 79.2 A19.7 19.7 0 0 1 623.6 100.5" stroke="#00ff00" stroke-width="1" fill="none"/>
<line x1="624.2" y1="99.5" x2="606" y2="119.6" stroke="#00ff00" stroke-width="1"/>
<path d="M620.6 83.5 L623.6 88.5 L621.8 88.9 Z M623.8 97.5 L622.6 103 L621.2 101.8 Z" stroke="#00ff00" stroke-width="1" fill="none"/>
<text x="0" y="0" font-size="10" fill="#00ff00" transform="translate(617.5 126) rotate(-50)">6°</text>
<line x1="832.5" y1="114.5" x2="897.5" y2="114.5" stroke="#00ff00" stroke-width="1" shape-rendering="crispEdges"/>
<line x1="832.5" y1="111.5" x2="832.5" y2="123" stroke="#00ff00" stroke-width="1" shape-rendering="crispEdges"/>
<line x1="897.5" y1="111.5" x2="897.5" y2="262" stroke="#00ff00" stroke-width="1" shape-rendering="crispEdges"/>
<rect x="834.5" y="113.5" width="4" height="2" stroke="#00ff00" stroke-width="1" fill="#fff" shape-rendering="crispEdges"/>
<rect x="891.5" y="113.5" width="4" height="2" stroke="#00ff00" stroke-width="1" fill="#fff" shape-rendering="crispEdges"/>
<text class="b" x="834" y="112" font-size="11.25" fill="#00ff00" textLength="62.80" lengthAdjust="spacingAndGlyphs">15.75±0.1</text>
<circle cx="907" cy="108.3" r="7.3" stroke="#ff0000" stroke-width="1" fill="none"/>
<text x="907" y="113" font-size="14" fill="#ff0000" text-anchor="middle" style="font-family:'Liberation Serif',serif">1</text>
<rect x="842.5" y="124.5" width="44.0" height="16.0" stroke="#00ff00" stroke-width="1" fill="none" shape-rendering="crispEdges"/>
<line x1="862.5" y1="124.5" x2="862.5" y2="140.5" stroke="#00ff00" stroke-width="1" shape-rendering="crispEdges"/>
<line x1="846.5" y1="137.5" x2="852.5" y2="127.5" stroke="#00ff00" stroke-width="1"/>
<line x1="851.5" y1="137.5" x2="857.5" y2="127.5" stroke="#00ff00" stroke-width="1"/>
<text class="b" x="864" y="136" font-size="11.11" fill="#00ff00" textLength="20.50" lengthAdjust="spacingAndGlyphs">0.1</text>
<line x1="849.5" y1="418" x2="849.5" y2="483" stroke="#00ff00" stroke-width="1" shape-rendering="crispEdges"/>
<line x1="891.5" y1="465" x2="891.5" y2="483" stroke="#00ff00" stroke-width="1" shape-rendering="crispEdges"/>
<line x1="849.5" y1="481.5" x2="964" y2="481.5" stroke="#00ff00" stroke-width="1" shape-rendering="crispEdges"/>
<rect x="851.5" y="480.5" width="4" height="2" stroke="#00ff00" stroke-width="1" fill="#fff" shape-rendering="crispEdges"/>
<rect x="884.5" y="480.5" width="4" height="2" stroke="#00ff00" stroke-width="1" fill="#fff" shape-rendering="crispEdges"/>
<text class="b" x="901" y="479" font-size="12.36" fill="#00ff00" textLength="61.00" lengthAdjust="spacingAndGlyphs">10.3±0.10</text>
<circle cx="970.7" cy="476" r="7.1" stroke="#ff0000" stroke-width="1" fill="none"/>
<text x="971" y="481" font-size="14" fill="#ff0000" text-anchor="middle" style="font-family:'Liberation Serif',serif">2</text>
<rect x="847.5" y="493.5" width="44.0" height="16.0" stroke="#00ff00" stroke-width="1" fill="none" shape-rendering="crispEdges"/>
<line x1="867.5" y1="493.5" x2="867.5" y2="509.5" stroke="#00ff00" stroke-width="1" shape-rendering="crispEdges"/>
<line x1="851.5" y1="506.5" x2="857.5" y2="496.5" stroke="#00ff00" stroke-width="1"/>
<line x1="856.5" y1="506.5" x2="862.5" y2="496.5" stroke="#00ff00" stroke-width="1"/>
<text class="b" x="869" y="505" font-size="11.39" fill="#00ff00" textLength="20.30" lengthAdjust="spacingAndGlyphs">0.1</text>
</svg>
</body></html>
